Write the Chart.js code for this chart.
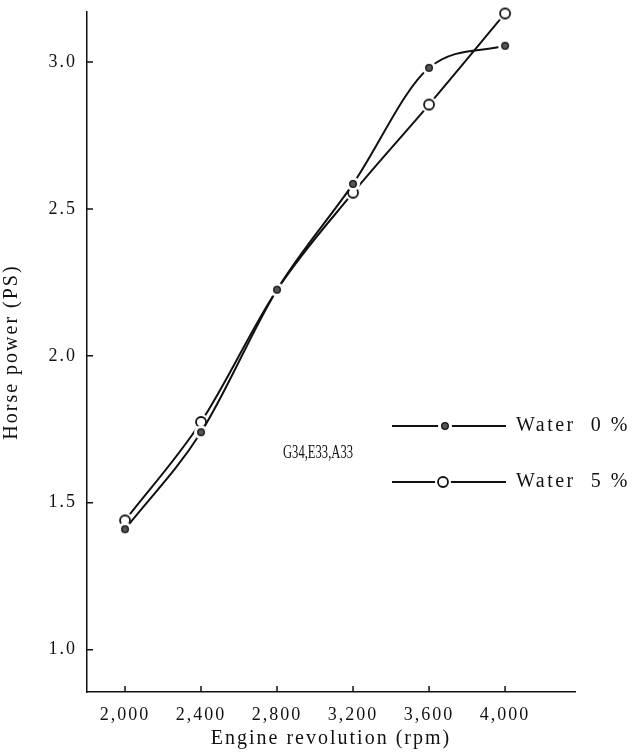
<!DOCTYPE html>
<html>
<head>
<meta charset="utf-8">
<script src="https://cdn.jsdelivr.net/npm/chart.js@4.4.1/dist/chart.umd.min.js"></script>
<style>
  html, body { margin: 0; padding: 0; background: #fff; }
  #wrap { width: 637px; height: 756px; }
</style>
</head>
<body>
<div id="wrap"><canvas id="hpChart"></canvas></div>
<script>
// Engine revolution (rpm)
const rpm = [2000, 2400, 2800, 3200, 3600, 4000];
// Horse power (PS)
const water0 = [1.41, 1.74, 2.225, 2.585, 2.98, 3.055];
const water5 = [1.44, 1.775, 2.225, 2.555, 2.855, 3.165];
// Axis ticks
const xTicks = [2000, 2400, 2800, 3200, 3600, 4000];
const yTicks = [1.0, 1.5, 2.0, 2.5, 3.0];

const INK = '#111';
const FONT = "'Liberation Serif', 'DejaVu Serif', serif";

// marker images (white halo gives the small gap in the line)
function makeDot() {
  const c = document.createElement('canvas');
  c.width = c.height = 16;
  const g = c.getContext('2d');
  g.fillStyle = '#fff';
  g.beginPath(); g.arc(8, 8, 7, 0, 2 * Math.PI); g.fill();
  g.fillStyle = '#555'; g.strokeStyle = INK; g.lineWidth = 1.3;
  g.beginPath(); g.arc(8, 8, 3.3, 0, 2 * Math.PI); g.fill(); g.stroke();
  return c;
}
function makeRing() {
  const c = document.createElement('canvas');
  c.width = c.height = 20;
  const g = c.getContext('2d');
  g.fillStyle = '#fff';
  g.beginPath(); g.arc(10, 10, 8, 0, 2 * Math.PI); g.fill();
  g.strokeStyle = INK; g.lineWidth = 1.8;
  g.beginPath(); g.arc(10, 10, 5, 0, 2 * Math.PI); g.stroke();
  return c;
}
const dotImg = makeDot();
const ringImg = makeRing();

// inward tick marks + the hand-made legend
const decor = {
  id: 'decor',
  beforeDraw(chart) {
    chart.ctx.letterSpacing = '2px';
  },
  afterDraw(chart) {
    const { ctx, chartArea, scales: { x, y } } = chart;
    ctx.save();
    ctx.strokeStyle = INK;
    ctx.lineWidth = 1.5;
    ctx.beginPath();
    xTicks.forEach(v => {
      const px = x.getPixelForValue(v);
      ctx.moveTo(px, chartArea.bottom);
      ctx.lineTo(px, chartArea.bottom - 6);
    });
    yTicks.forEach(v => {
      const py = y.getPixelForValue(v);
      ctx.moveTo(chartArea.left, py);
      ctx.lineTo(chartArea.left + 6, py);
    });
    ctx.stroke();

    // legend
    const rows = [
      { y: 426, img: dotImg, mx: 445, label: 'Water  0 %' },
      { y: 482, img: ringImg, mx: 443, label: 'Water  5 %' }
    ];
    ctx.lineWidth = 1.8;
    rows.forEach(r => {
      ctx.beginPath();
      ctx.moveTo(392, r.y); ctx.lineTo(506, r.y);
      ctx.stroke();
      ctx.drawImage(r.img, r.mx - r.img.width / 2, r.y - r.img.height / 2);
      ctx.fillStyle = INK;
      ctx.font = '20px ' + FONT;
      ctx.letterSpacing = '2.5px';
      ctx.textBaseline = 'middle';
      ctx.textAlign = 'left';
      ctx.fillText(r.label, 516, r.y);
    });
    // condensed label, as in the original
    ctx.translate(283, 453);
    ctx.scale(0.7, 1);
    ctx.font = '18px ' + FONT;
    ctx.letterSpacing = '0px';
    ctx.fillText('G34,E33,A33', 0, 0);
    ctx.restore();
  }
};

new Chart(document.getElementById('hpChart'), {
  type: 'line',
  data: {
    datasets: [
      {
        label: 'Water 0 %',
        data: rpm.map((r, i) => ({ x: r, y: water0[i] })),
        borderColor: INK,
        borderWidth: 2,
        cubicInterpolationMode: 'monotone',
        pointStyle: dotImg,
        pointRadius: 8
      },
      {
        label: 'Water 5 %',
        data: rpm.map((r, i) => ({ x: r, y: water5[i] })),
        borderColor: INK,
        borderWidth: 2,
        cubicInterpolationMode: 'monotone',
        pointStyle: ringImg,
        pointRadius: 10
      }
    ]
  },
  options: {
    responsive: true,
    maintainAspectRatio: false,
    animation: false,
    clip: false,
    layout: { padding: { top: 8, right: 62, left: 0, bottom: 0 } },
    plugins: { legend: { display: false }, tooltip: { enabled: false } },
    scales: {
      x: {
        type: 'linear',
        min: 1800,
        max: 4368,
        afterBuildTicks: s => { s.ticks = xTicks.map(v => ({ value: v })); },
        afterFit: s => { s.height = 64; s.paddingLeft = 0; s.paddingRight = 0; },
        grid: { display: false, drawTicks: false },
        border: { color: INK, width: 1.5 },
        ticks: {
          color: INK,
          padding: 12,
          font: { family: FONT, size: 18 },
          callback: v => v.toLocaleString('en-US')
        },
        title: {
          display: true,
          text: 'Engine revolution (rpm)',
          color: INK,
          font: { family: FONT, size: 20 },
          padding: { top: 0, bottom: 5 }
        }
      },
      y: {
        min: 0.856,
        max: 3.17,
        afterBuildTicks: s => { s.ticks = yTicks.map(v => ({ value: v })); },
        afterFit: s => { s.width = 87; s.paddingTop = 0; s.paddingBottom = 0; },
        grid: { display: false, drawTicks: false },
        border: { color: INK, width: 1.5 },
        ticks: {
          color: INK,
          padding: 10,
          font: { family: FONT, size: 18 },
          callback: v => v.toFixed(1)
        },
        title: {
          display: true,
          text: 'Horse power (PS)',
          color: INK,
          font: { family: FONT, size: 20 },
          padding: { top: 0, bottom: 0 }
        }
      }
    }
  },
  plugins: [decor]
});
</script>
</body>
</html>
